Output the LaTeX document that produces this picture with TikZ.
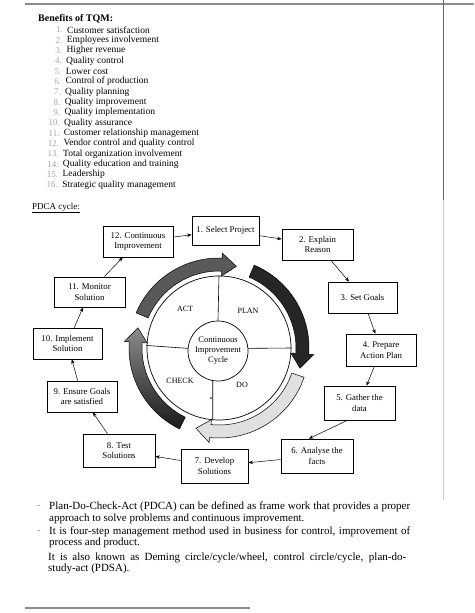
\documentclass[tikz,border=0pt]{standalone}
\usepackage{fontspec}
\setmainfont{Liberation Serif}
\usetikzlibrary{arrows.meta}
\newcommand\pdcaarrow[3]{%
  \draw[line width=0.5pt,#1] (#2:90) arc[start angle=#2,end angle=#3+10,radius=90]
    -- (#3+10:95) -- (#3:83.5) -- (#3+10:72) -- (#3+10:77)
    arc[start angle=#3+10,end angle=#2,radius=77] -- cycle;}
\begin{document}
\begin{tikzpicture}[x=1pt,y=1pt,
  stepbox/.style={draw,line width=0.7pt,align=center,inner sep=1pt,
    font=\fontsize{8.8}{10.3}\selectfont},
  link/.style={-{Stealth[length=4.5pt,width=3.5pt]},line width=0.5pt},
  quad/.style={font=\fontsize{8}{9}\selectfont},
  item/.style={anchor=west,inner sep=0pt,font=\fontsize{9.5}{11}\selectfont},
  num/.style={anchor=east,inner sep=0pt,text=black!35,font=\fontsize{9}{11}\selectfont},
  body/.style={anchor=west,inner sep=0pt,font=\fontsize{11}{13}\selectfont},
  scanline/.style={draw=black!45,line width=1.3pt}]
\useasboundingbox (0,0) rectangle (474,-613);
% scan edges
\draw[scanline] (25,-4) -- (474,-4);
\draw[scanline] (25,-608) -- (250,-608);
\draw[draw=black!60,line width=0.8pt] (443,0) -- (443,-200);
\draw[draw=black!20,line width=0.6pt] (443,-200) -- (443,-500);
% Benefits list
\node[anchor=west,inner sep=0pt,font=\fontsize{10}{12}\selectfont\bfseries] (head) at (38,-19) {Benefits of TQM:};
\foreach \i/\t in {1/Customer satisfaction,2/Employees involvement,3/Higher revenue,
  4/Quality control,5/Lower cost,6/Control of production,7/Quality planning,
  8/Quality improvement,9/Quality implementation,10/Quality assurance,
  11/Customer relationship management,12/Vendor control and quality control,
  13/Total organization involvement,14/Quality education and training,
  15/Leadership,16/Strategic quality management}{
  \pgfmathsetmacro\yy{-30-(\i-1)*10.33}
  \pgfmathsetmacro\xx{67-(\i-1)*0.33}
  \node[item] (it\i) at (\xx,\yy) {\t};
  \node[num] (nu\i) at (\xx-4,\yy) {\i.};
}
% PDCA title
\node[anchor=west,inner sep=0pt,font=\fontsize{9}{11}\selectfont] (ptitle) at (32,-208) {\underline{PDCA cycle:}};
% wheel
\node[circle,draw,line width=0.7pt,minimum size=144pt,inner sep=0pt] (outer) at (219,-348) {};
\node[circle,draw,line width=0.7pt,minimum size=60pt,inner sep=0pt,align=center,
  font=\fontsize{8.5}{10}\selectfont] (inner) at (218,-351) {Continuous\\Improvement\\Cycle};
\draw[line width=0.6pt] (outer.north) -- (inner.north);
\draw[line width=0.6pt] (inner.-100) -- (outer.-95);
\draw[line width=0.6pt] (outer.178) -- (inner.175);
\draw[line width=0.6pt] (inner.5) -- (outer.0);
\node[quad] (act) at (185,-309) {ACT};
\node[quad] (plan) at (248,-311) {PLAN};
\node[quad] (check) at (180,-381) {CHECK};
\node[quad] (do) at (242,-385) {DO};
\fill (211,-398) circle (0.9pt);
% curved arrows
\begin{scope}[shift={(219,-348)}]
\pdcaarrow{fill=black!65}{157}{78}
\pdcaarrow{fill=black!85}{67}{-14}
\pdcaarrow{fill=black!12}{-19}{-106}
\pdcaarrow{top color=black!45,bottom color=black!90}{-116}{-194}
\end{scope}
% step boxes
\node[stepbox,minimum width=70pt,minimum height=31pt] (b12) at (138,-241.5) {12. Continuous\\Improvement};
\node[stepbox,minimum width=67pt,minimum height=29pt] (b1) at (225.5,-230.5) {1. Select Project};
\node[stepbox,minimum width=71pt,minimum height=31pt] (b2) at (317.5,-244.5) {2. Explain\\Reason};
\node[stepbox,minimum width=69pt,minimum height=31pt] (b3) at (362.5,-297.5) {3. Set Goals};
\node[stepbox,minimum width=70pt,minimum height=32pt] (b4) at (381,-350) {4. Prepare\\Action Plan};
\node[stepbox,minimum width=71pt,minimum height=34pt] (b5) at (359.5,-403) {5. Gather the\\data};
\node[stepbox,minimum width=72pt,minimum height=34pt] (b6) at (317,-456) {6. Analyse the\\facts};
\node[stepbox,minimum width=67pt,minimum height=34pt] (b7) at (214.5,-466) {7. Develop\\Solutions};
\node[stepbox,minimum width=72pt,minimum height=33pt] (b8) at (119,-450.5) {8. Test\\Solutions};
\node[stepbox,minimum width=70pt,minimum height=31pt] (b9) at (82,-396.5) {9. Ensure Goals\\are satisfied};
\node[stepbox,minimum width=69pt,minimum height=31pt] (b10) at (67.5,-343.5) {10. Implement\\Solution};
\node[stepbox,minimum width=71pt,minimum height=30pt] (b11) at (89.5,-292) {11. Monitor\\Solution};
% connectors
\draw[link] (b12) -- (b1);
\draw[link] (b1) -- (b2);
\draw[link] (b2) -- (b3);
\draw[link] (b3) -- (b4);
\draw[link] (b4) -- (b5);
\draw[link] (b5.235) -- (b6.115);
\draw[link] (b6) -- (b7);
\draw[link] (b7) -- (b8);
\draw[link] (b8) -- (b9);
\draw[link] (b9) -- (b10);
\draw[link] (b10) -- (b11);
\draw[link] (b11) -- (b12);
% bottom text
\node[body,text=black!40] (d1) at (37,-507) {-};
\node[body,text=black!40] (d2) at (37,-532) {-};
\node[body] (l1) at (49,-507) {\makebox[361pt][s]{Plan-Do-Check-Act (PDCA) can be defined as frame work that provides a proper}};
\node[body] (l2) at (49,-519) {approach to solve problems and continuous improvement.};
\node[body] (l3) at (49,-532) {\makebox[361pt][s]{It is four-step management method used in business for control, improvement of}};
\node[body] (l4) at (49,-543) {process and product.};
\node[body] (l5) at (48,-558) {\makebox[358pt][s]{It is also known as Deming circle/cycle/wheel, control circle/cycle, plan-do-}};
\node[body] (l6) at (48,-569) {study-act (PDSA).};
\end{tikzpicture}
\end{document}
